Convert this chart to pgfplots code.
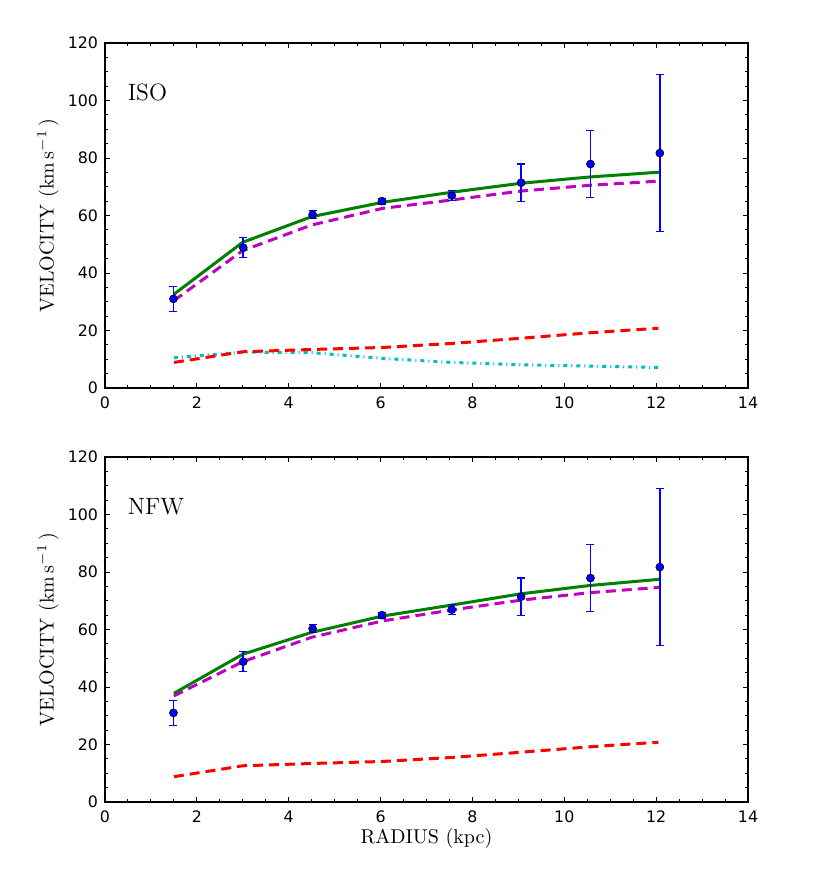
\documentclass[border=0pt]{standalone}
\usepackage{pgfplots}
\pgfplotsset{compat=1.18}
\usepackage{fontspec}
\newfontfamily\dejavu{DejaVu Sans}
\definecolor{mgreen}{rgb}{0,0.5,0}
\definecolor{mmag}{rgb}{0.75,0,0.75}
\definecolor{mcyan}{rgb}{0,0.75,0.75}
\pgfplotsset{
 myaxis/.style={
  scale only axis, width=321.5pt, height=172.5pt,
  xmin=0,xmax=14,ymin=0,ymax=120,
  xtick={0,2,...,14}, ytick={0,20,...,120},
  minor x tick num=3, minor y tick num=3,
  tick align=inside, major tick length=2.5pt, minor tick length=1.5pt,
  tick style={black, line width=0.5pt},
  axis line style={line width=0.6pt},
  ticklabel style={font=\dejavu\fontsize{7.9}{9}\selectfont},
  xticklabel style={yshift=-0.8pt},
  /pgf/number format/assume math mode=true,
  ylabel={VELOCITY (km\,s$^{-1}$\,)},
  every axis y label/.style={at={(axis description cs:-0.0887,0.5)}, rotate=90, anchor=center, font=\fontsize{10}{12}\selectfont},
  clip=false,
 },
 obs/.style={only marks, mark=*, mark size=2pt, mark options={fill=blue, draw=black, line width=0.3pt},
  error bars/.cd, y dir=both, y explicit,
  error bar style={draw=blue, line width=0.8pt},
  error mark options={draw=blue, fill=blue, mark size=2pt, line width=0.6pt, rotate=90}},
 green/.style={mgreen, line width=1.5pt},
 mag/.style={mmag, line width=1.5pt, dash pattern=on 5pt off 3pt},
 redd/.style={red, line width=1.5pt, dash pattern=on 5pt off 3pt},
 cyand/.style={mcyan, line width=1.5pt, dash pattern=on 2pt off 2pt on 0.5pt off 2pt},
}
\begin{document}
\begin{tikzpicture}
\useasboundingbox (0,0) rectangle (415pt,-436.5pt);
% top: ISO
\begin{axis}[myaxis, at={(52.5pt,-21.5pt)}, anchor=north west]
\addplot[cyand] coordinates {(1.5,10.5) (3.0,12.5) (4.5,12.3) (6.05,10.3) (7.55,8.9) (9.05,8.1) (10.55,7.65) (12.1,7.1)};
\addplot[redd] coordinates {(1.5,8.9) (3.0,12.6) (4.5,13.4) (6.05,14.1) (7.55,15.5) (9.05,17.3) (10.55,19.2) (12.05,20.8)};
\addplot[mag] coordinates {(1.5,30.4) (3.0,47.8) (4.5,56.7) (6.05,62.5) (7.55,65.4) (9.05,68.5) (10.55,70.5) (12.1,72.0)};
\addplot[green] coordinates {(1.5,32.6) (3.0,50.7) (4.5,59.6) (6.05,64.6) (7.55,68.1) (9.05,71.2) (10.55,73.4) (12.1,75.1)};
\addplot[obs] coordinates {
 (1.49,31.0) +- (0,4.4)
 (3.01,48.8) +- (0,3.5)
 (4.52,60.3) +- (0,1.4)
 (6.03,65.0) +- (0,1.0)
 (7.55,66.9) +- (0,1.7)
 (9.06,71.4) +- (0,6.5)
 (10.57,77.9) +- (0,11.6)
 (12.08,81.7) +- (0,27.3)
};
\node[anchor=base west, font=\fontsize{11.8}{14}\selectfont, inner sep=0pt] at (axis cs:0.49,100) {ISO};
\end{axis}
% bottom: NFW
\begin{axis}[myaxis, at={(52.5pt,-228.5pt)}, anchor=north west,
  xlabel={RADIUS (kpc)},
  every axis x label/.style={at={(axis description cs:0.5,0)}, anchor=base, yshift=-20.5pt, font=\fontsize{10}{12}\selectfont}]
\addplot[redd] coordinates {(1.5,8.8) (3.0,12.6) (4.5,13.4) (6.05,14.1) (7.55,15.5) (9.05,17.3) (10.55,19.2) (12.05,20.8)};
\addplot[mag] coordinates {(1.5,36.9) (3.0,48.8) (4.5,57.3) (6.05,63.0) (7.55,66.8) (9.05,70.2) (10.55,72.8) (12.1,74.7)};
\addplot[green] coordinates {(1.5,37.8) (3.0,51.4) (4.5,59.0) (6.05,64.7) (7.55,68.5) (9.05,72.4) (10.55,75.3) (12.1,77.5)};
\addplot[obs] coordinates {
 (1.49,31.0) +- (0,4.4)
 (3.01,48.8) +- (0,3.5)
 (4.52,60.3) +- (0,1.4)
 (6.03,65.0) +- (0,1.0)
 (7.55,66.9) +- (0,1.7)
 (9.06,71.4) +- (0,6.5)
 (10.57,77.9) +- (0,11.6)
 (12.08,81.7) +- (0,27.3)
};
\node[anchor=base west, font=\fontsize{11.8}{14}\selectfont, inner sep=0pt] at (axis cs:0.49,100) {NFW};
\end{axis}
\end{tikzpicture}
\end{document}
